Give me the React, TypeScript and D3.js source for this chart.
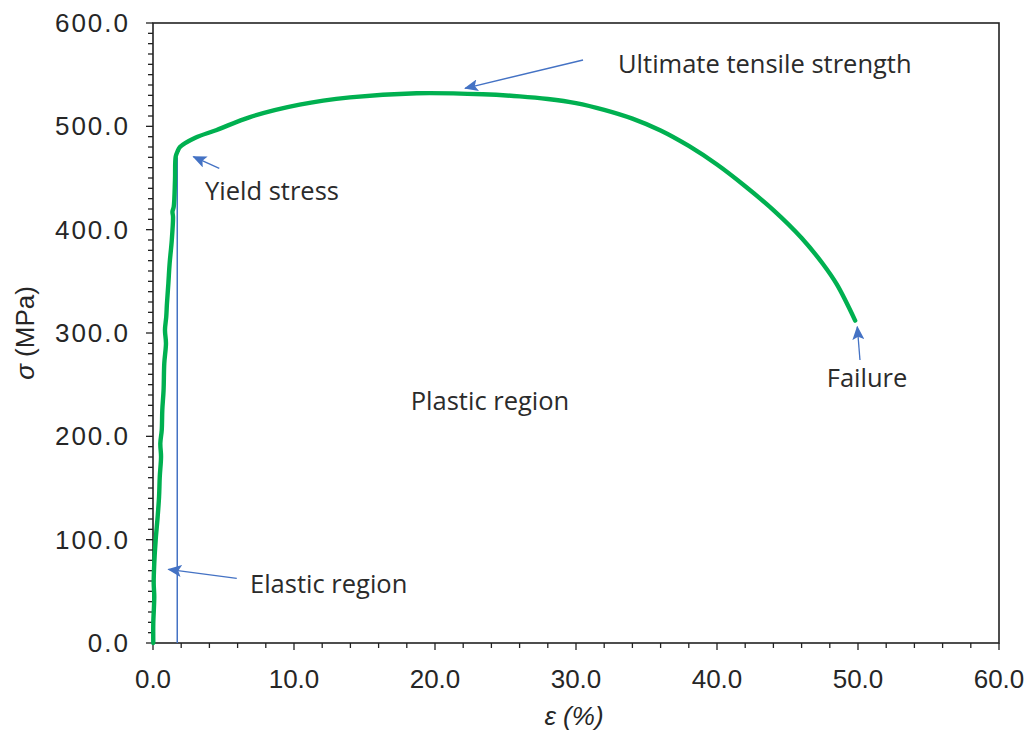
import React from "react";
import * as d3 from "d3";

// Engineering stress–strain curve of a ductile steel specimen
const strainPct = [
  0.02, 0.02, 0.09, 0.05, 0.09, 0.19, 0.33, 0.43, 0.48, 0.57, 0.52, 0.62, 0.66, 0.75,
  0.8, 0.92, 0.85, 0.94, 0.99, 1.09, 1.18, 1.33, 1.42, 1.38, 1.47, 1.56, 1.61,
  1.75, 1.91, 3.0, 4.52, 6.88, 10.4, 13.97, 18.7, 23.4, 26.0, 28.0, 30.0, 32.0,
  34.0, 36.0, 38.0, 40.0, 42.0, 44.0, 46.0, 47.5, 48.5, 49.8,
];
const stressMPa = [
  0, 19.1, 44.8, 57.8, 77.1, 99.7, 122.2, 141.6, 160.9, 180.3, 193.3, 206.1, 225.5, 244.8,
  270.7, 290.0, 302.9, 315.8, 328.7, 348.1, 367.4, 389.4, 412.5, 417.4, 422.2, 448.1, 470.6,
  476, 480, 489, 496.5, 509, 521, 528, 532, 531, 529, 526.5, 522.5, 516,
  507.5, 496, 481, 463, 442, 419, 392, 367, 347, 312,
];

// Offset line marking the end of the elastic region
const yieldLineStrain = 1.72;
const yieldLineTop = 470;

const xTicks = [0, 10, 20, 30, 40, 50, 60];
const yTicks = [0, 100, 200, 300, 400, 500, 600];

// Callouts: label anchor, arrow tail and arrow tip in data units
const noteText = ["Ultimate tensile strength", "Yield stress", "Elastic region", "Failure", "Plastic region"];
const noteX = [32.98, 3.69, 6.88, 50.64, 23.9];
const noteY = [551.6, 428.7, 48.7, 248, 225.5];
const noteAnchor = ["start", "start", "start", "middle", "middle"];
const arrowFrom = [[30.5, 564.2], [4.7, 459.4], [5.94, 62.6], [50.14, 273.9], null];
const arrowTo = [[22.13, 536.8], [2.86, 470.6], [1.09, 71.3], [49.95, 306.1], null];

const W = 1030;
const H = 730;
const left = 153, right = 999, top = 23, bottom = 643;

export default function App() {
  const x = d3.scaleLinear().domain([0, 60]).range([left, right]);
  const y = d3.scaleLinear().domain([0, 600]).range([bottom, top]);

  const pts = strainPct.map((s, i) => [s, stressMPa[i]] as [number, number]);
  const path = d3
    .line<[number, number]>()
    .x((d) => x(d[0]))
    .y((d) => y(d[1]))
    .curve(d3.curveCatmullRom.alpha(0.5))(pts) as string;

  const xMinor = d3.range(0, 60.001, 2);
  const yMinor = d3.range(0, 600.001, 10);

  const tickFont = "'Liberation Sans', Arial, sans-serif";
  const noteFont = "'Open Sans', sans-serif";
  const blue = "#4472C4";

  return (
    <svg width={W} height={H} style={{ position: "absolute", left: 0, top: 0, background: "#fff" }}>
      <defs>
        <marker id="head" viewBox="0 0 14 12" refX="13" refY="6" markerWidth="14" markerHeight="12"
          markerUnits="userSpaceOnUse" orient="auto">
          <path d="M0,0 L14,6 L0,12 L3,6 Z" fill={blue} />
        </marker>
      </defs>

      {/* minor and major ticks */}
      {xMinor.map((v) => (
        <line key={"xm" + v} x1={x(v)} x2={x(v)} y1={bottom} y2={bottom + (v % 10 === 0 ? 7 : 5)}
          stroke="#222" strokeWidth={1.3} />
      ))}
      {yMinor.map((v) => (
        <line key={"ym" + v} x1={left} x2={left - (v % 100 === 0 ? 7 : 5)} y1={y(v)} y2={y(v)}
          stroke="#222" strokeWidth={1.3} />
      ))}

      {/* plot frame */}
      <rect x={left} y={top} width={right - left} height={bottom - top} fill="none" stroke="#222" strokeWidth={1.6} />

      {xTicks.map((v) => (
        <text key={"xt" + v} x={x(v)} y={688} textAnchor="middle" fontFamily={tickFont} fontSize={26} fill="#262626">
          {v.toFixed(1)}
        </text>
      ))}
      {yTicks.map((v) => (
        <text key={"yt" + v} x={130} y={y(v)} dy="0.35em" textAnchor="end" fontFamily={tickFont} fontSize={26}
          letterSpacing={2} fill="#262626">
          {v.toFixed(1)}
        </text>
      ))}

      <text transform={`translate(34,${(top + bottom) / 2}) rotate(-90)`} textAnchor="middle"
        fontFamily={tickFont} fontSize={26} fill="#262626">
        <tspan fontStyle="italic">σ</tspan> (MPa)
      </text>
      <text x={574} y={725} textAnchor="middle" fontFamily={tickFont} fontSize={26} fontStyle="italic" fill="#262626">
        ε (%)
      </text>

      {/* yield offset line */}
      <line x1={x(yieldLineStrain)} x2={x(yieldLineStrain)} y1={y(0)} y2={y(yieldLineTop)} stroke={blue} strokeWidth={1.5} />

      {/* stress–strain curve */}
      <path d={path} fill="none" stroke="#00B050" strokeWidth={4.4} strokeLinejoin="round" strokeLinecap="round" />

      {/* callouts */}
      {noteText.map((t, i) => {
        const a = arrowFrom[i];
        const b = arrowTo[i];
        return (
          <g key={t}>
            {a && b && (
              <line x1={x(a[0])} y1={y(a[1])} x2={x(b[0])} y2={y(b[1])} stroke={blue} strokeWidth={1.3}
                markerEnd="url(#head)" />
            )}
            <text x={x(noteX[i])} y={y(noteY[i])} textAnchor={noteAnchor[i] as any} fontFamily={noteFont}
              fontSize={25.5} fill="#2b2b2b">
              {t}
            </text>
          </g>
        );
      })}
    </svg>
  );
}
